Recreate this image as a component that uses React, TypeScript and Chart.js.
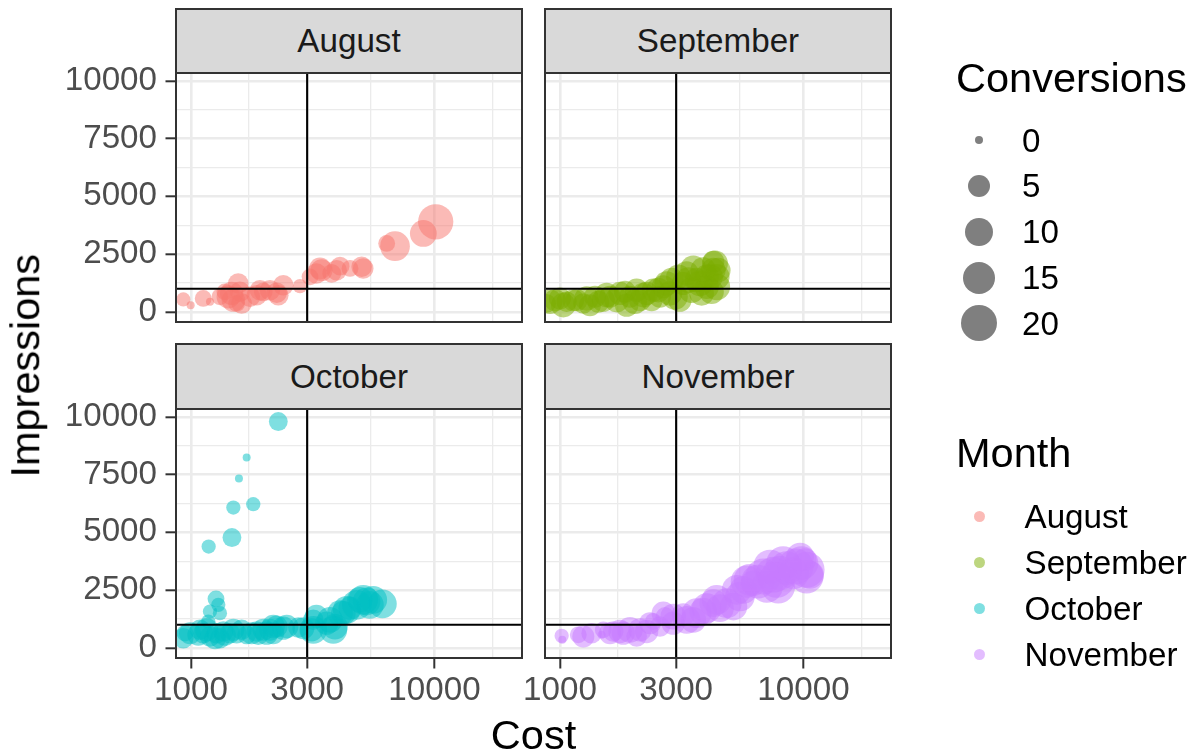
import React, { useEffect, useRef } from 'react';
import { Chart, registerables } from 'chart.js';

Chart.register(...registerables);

// ---------------- data ----------------
const MONTHS = ['August', 'September', 'October', 'November'];
const MONTH_COLORS = ['#F8766D', '#7CAE00', '#00BFC4', '#C77CFF'];

const AUG_COST = [930, 997, 1123, 1197, 1315, 1379, 1469, 1564, 1540, 1589, 1746, 1920, 1982, 2249, 2394, 2804, 3083, 3388, 3440, 3785, 4094, 4500, 5024, 5100, 6364, 6887, 9000, 10117, 1493, 2111, 2284, 1423, 1615, 1862, 3274, 3966];
const AUG_IMPR = [537, 290, 580, 433, 650, 866, 797, 1229, 364, 866, 650, 939, 866, 823, 1156, 1113, 1515, 1879, 1805, 1662, 1978, 1879, 1948, 1880, 2961, 2844, 3394, 3896, 506, 939, 723, 650, 364, 723, 1662, 1805];
const AUG_CONV = [1, 0, 2, 0, 2, 2, 6, 4, 2, 4, 4, 4, 3, 4, 4, 1, 2, 5, 5, 3, 3, 2, 4, 4, 2, 12, 9, 19, 6, 4, 4, 6, 4, 4, 4, 4];

const SEP_COST = [882, 954, 1000, 1065, 1134, 1247, 1328, 1392, 1506, 1605, 1764, 1879, 1939, 2064, 2130, 2269, 2417, 2574, 2657, 2874, 2966, 3107, 3208, 3312, 3528, 3642, 3878, 4004, 4134, 4334, 4403, 4403, 4264, 910, 1032, 1171, 1287, 1437, 1555, 1710, 1849, 2031, 2198, 2379, 2532, 2742, 2830, 3063, 3364, 3471, 3757, 4004, 4264, 4468, 4194, 3817];
const SEP_IMPR = [364, 506, 580, 433, 506, 364, 290, 650, 506, 650, 797, 290, 650, 939, 506, 797, 939, 650, 1083, 1372, 650, 506, 1229, 1662, 1879, 1372, 1805, 1083, 1515, 2095, 1515, 1083, 1805, 433, 290, 506, 580, 433, 723, 506, 866, 433, 723, 506, 939, 1229, 797, 1515, 1372, 939, 1229, 1515, 2165, 1805, 866, 797];
const SEP_CONV = [3, 5, 5, 4, 5, 4, 5, 5, 6, 5, 6, 6, 5, 6, 5, 6, 6, 5, 6, 7, 8, 6, 6, 7, 8, 7, 8, 7, 8, 8, 8, 9, 7, 7, 7, 5, 7, 5, 7, 7, 5, 7, 7, 5, 7, 7, 7, 7, 8, 8, 8, 7, 5, 7, 7, 7];

const OCT_COST = [2284, 1693, 1574, 1493, 1802, 1182, 1473, 1267, 1295, 1197, 1315, 1178, 930, 945, 1123, 1197, 1275, 1358, 1446, 1540, 1693, 1862, 1982, 2111, 2249, 2394, 2760, 3180, 3131, 3610, 3902, 4227, 4500, 4938, 5260, 5428, 6110, 1089, 1315, 1614, 1890, 2177, 991, 1072, 1160, 1255, 1379, 1493, 1775, 2045, 2177, 2473, 2895, 3274, 3722, 4094, 4364, 4795, 5102, 5603, 3180, 3842];
const OCT_IMPR = [9797, 8238, 7329, 6074, 6219, 4385, 4775, 2121, 1861, 1571, 1502, 1139, 420, 636, 636, 489, 636, 706, 636, 636, 563, 706, 779, 779, 922, 853, 879, 1212, 779, 1069, 922, 1502, 1717, 2078, 2006, 1861, 1905, 779, 420, 779, 563, 636, 636, 563, 779, 420, 563, 779, 636, 636, 922, 922, 853, 1355, 1212, 1502, 1645, 1861, 2078, 2078, 779, 779];
const OCT_CONV = [3, 0, 0, 1, 1, 1, 3, 2, 1, 1, 1, 1, 4, 2, 4, 4, 4, 4, 4, 4, 3, 4, 5, 5, 5, 6, 4, 4, 6, 6, 8, 7, 6, 8, 10, 10, 11, 4, 4, 4, 4, 5, 5, 5, 6, 5, 5, 5, 5, 6, 6, 6, 5, 6, 8, 8, 10, 12, 12, 10, 10, 10];

const NOV_COST = [1016, 1022, 1189, 1247, 1483, 1506, 1655, 1820, 1939, 2064, 2269, 2417, 2574, 2700, 2918, 3208, 3528, 3878, 4264, 4538, 5154, 5667, 6228, 6847, 7525, 7876, 8515, 9068, 9808, 10302, 10637, 10130, 5485, 6000, 7067, 8000, 2920, 3313, 3642, 4004, 4403, 4841, 5323, 5853, 6504, 7300, 7760, 8251, 9285, 10302, 9684, 2344, 2130, 1764, 1605, 1349, 2657];
const NOV_IMPR = [519, 346, 563, 489, 563, 779, 706, 636, 779, 489, 706, 1139, 922, 1355, 1069, 1429, 1212, 1571, 1935, 1717, 1788, 2511, 2800, 3087, 3160, 2654, 3450, 3234, 3667, 3377, 3160, 3810, 2222, 2944, 2654, 3234, 1355, 1212, 1502, 1717, 2078, 1935, 2511, 2870, 2870, 3520, 2944, 3667, 3520, 3087, 3952, 1069, 779, 706, 636, 636, 1502];
const NOV_CONV = [1, 0, 2, 5, 0, 2, 4, 6, 8, 4, 6, 2, 4, 3, 6, 6, 8, 10, 10, 10, 10, 10, 8, 20, 20, 17, 17, 15, 17, 20, 10, 6, 12, 14, 15, 18, 8, 10, 12, 12, 12, 12, 12, 15, 17, 17, 20, 17, 20, 17, 10, 5, 6, 6, 5, 4, 6];

const X_BREAKS = [1000, 3000, 10000];
const X_MINOR_BREAKS = [1732, 5477, 17321];
const Y_BREAKS = [0, 2500, 5000, 7500, 10000];
const Y_MINOR_BREAKS = [1250, 3750, 6250, 8750];
const SIZE_BREAKS = [0, 5, 10, 15, 20];
const X_LIMITS = [868, 22880];
const Y_LIMITS = [-440, 10340];
const COST_REF = 3000;
const IMPR_REF = 1000;

const COSTS = [AUG_COST, SEP_COST, OCT_COST, NOV_COST];
const IMPRS = [AUG_IMPR, SEP_IMPR, OCT_IMPR, NOV_IMPR];
const CONVS = [AUG_CONV, SEP_CONV, OCT_CONV, NOV_CONV];

// ---------------- layout / style ----------------
const W = 1201;
const H = 754;
const PANELS = [
  { left: 176, right: 522, top: 73, bottom: 322 },
  { left: 545, right: 891, top: 73, bottom: 322 },
  { left: 176, right: 522, top: 409, bottom: 658 },
  { left: 545, right: 891, top: 409, bottom: 658 },
];
const STRIPS = [
  { left: 175, top: 8, width: 348, height: 66 },
  { left: 544, top: 8, width: 348, height: 66 },
  { left: 175, top: 343, width: 348, height: 67 },
  { left: 544, top: 343, width: 348, height: 67 },
];
const FONT = '"Liberation Sans", Arial, Helvetica, sans-serif';
const FS_SMALL = 33.2;
const FS_TITLE = 41.5;
const ALPHA = 0.5;

const sizeToRadius = (c: number) => 4 + 3.13 * Math.sqrt(c);
const withAlpha = (hex: string, a: number) => {
  const n = parseInt(hex.slice(1), 16);
  return `rgba(${(n >> 16) & 255},${(n >> 8) & 255},${n & 255},${a})`;
};

const panelBorder = {
  id: 'panelBorder',
  afterDatasetsDraw(chart: any) {
    const { ctx, chartArea: a } = chart;
    ctx.save();
    ctx.strokeStyle = '#333333';
    ctx.lineWidth = 2;
    ctx.strokeRect(a.left, a.top, a.right - a.left, a.bottom - a.top);
    ctx.restore();
  },
};

function Panel({ index }: { index: number }) {
  const ref = useRef<HTMLCanvasElement>(null);
  useEffect(() => {
    const canvas = ref.current;
    if (!canvas) return;
    const p = PANELS[index];
    const showY = index % 2 === 0;
    const showX = index >= 2;
    const Y_AXIS_W = 176;
    const X_AXIS_H = H - 658;
    const color = MONTH_COLORS[index];
    const cost = COSTS[index];
    const impr = IMPRS[index];
    const conv = CONVS[index];
    const isMajorX = (v: number) => X_BREAKS.includes(v);
    const isMajorY = (v: number) => Y_BREAKS.includes(v);

    const chart = new Chart(canvas, {
      type: 'scatter',
      data: {
        datasets: [
          {
            type: 'line',
            data: [
              { x: COST_REF, y: Y_LIMITS[0] },
              { x: COST_REF, y: Y_LIMITS[1] },
            ],
            borderColor: '#000000',
            borderWidth: 2.1,
            pointRadius: 0,
            showLine: true,
            fill: false,
            clip: 0,
            order: 0,
          } as any,
          {
            type: 'line',
            data: [
              { x: X_LIMITS[0], y: IMPR_REF },
              { x: X_LIMITS[1], y: IMPR_REF },
            ],
            borderColor: '#000000',
            borderWidth: 2.1,
            pointRadius: 0,
            showLine: true,
            fill: false,
            clip: 0,
            order: 0,
          } as any,
          {
            type: 'scatter',
            label: MONTHS[index],
            data: cost.map((c, j) => ({ x: c, y: impr[j] })),
            pointRadius: conv.map(sizeToRadius),
            pointBackgroundColor: withAlpha(color, ALPHA),
            pointBorderWidth: 0,
            pointBorderColor: 'rgba(0,0,0,0)',
            clip: 0,
            order: 1,
          } as any,
        ],
      },
      options: {
        responsive: false,
        animation: false,
        events: [],
        layout: {
          padding: {
            left: showY ? p.left - Y_AXIS_W : p.left,
            right: W - p.right,
            top: p.top,
            bottom: showX ? H - p.bottom - X_AXIS_H : H - p.bottom,
          },
        },
        plugins: {
          legend: { display: false },
          tooltip: { enabled: false },
          title: { display: false },
        },
        scales: {
          x: {
            type: 'logarithmic',
            min: X_LIMITS[0],
            max: X_LIMITS[1],
            bounds: 'data',
            afterBuildTicks: (s: any) => {
              s.ticks = [...X_BREAKS, ...X_MINOR_BREAKS].sort((a, b) => a - b).map((v) => ({ value: v }));
            },
            afterFit: (s: any) => {
              s.height = showX ? X_AXIS_H : 0;
            },
            ticks: {
              display: showX,
              autoSkip: false,
              maxRotation: 0,
              minRotation: 0,
              padding: 2.3,
              color: '#4D4D4D',
              font: { family: FONT, size: FS_SMALL },
              callback: (v: any) => (isMajorX(Number(v)) ? String(v) : ''),
            },
            grid: {
              color: '#EBEBEB',
              lineWidth: (ctx: any) => (ctx.tick && isMajorX(ctx.tick.value) ? 2.6 : 1.3),
              drawTicks: showX,
              tickLength: 10.5,
              tickWidth: 2,
              tickColor: (ctx: any) => (ctx.tick && isMajorX(ctx.tick.value) ? '#333333' : 'rgba(0,0,0,0)'),
            },
            border: { display: false },
          },
          y: {
            type: 'linear',
            min: Y_LIMITS[0],
            max: Y_LIMITS[1],
            bounds: 'data',
            afterBuildTicks: (s: any) => {
              s.ticks = [...Y_BREAKS, ...Y_MINOR_BREAKS].sort((a, b) => a - b).map((v) => ({ value: v }));
            },
            afterFit: (s: any) => {
              s.width = showY ? Y_AXIS_W : 0;
            },
            ticks: {
              display: showY,
              autoSkip: false,
              padding: 8.5,
              color: '#4D4D4D',
              font: { family: FONT, size: FS_SMALL },
              callback: (v: any) => (isMajorY(Number(v)) ? String(v) : ''),
            },
            grid: {
              color: '#EBEBEB',
              lineWidth: (ctx: any) => (ctx.tick && isMajorY(ctx.tick.value) ? 2.6 : 1.3),
              drawTicks: showY,
              tickLength: 10.5,
              tickWidth: 2,
              tickColor: (ctx: any) => (ctx.tick && isMajorY(ctx.tick.value) ? '#333333' : 'rgba(0,0,0,0)'),
            },
            border: { display: false },
          },
        },
      } as any,
      plugins: [panelBorder],
    });
    return () => chart.destroy();
  }, [index]);
  return (
    <canvas
      ref={ref}
      width={W}
      height={H}
      style={{ position: 'absolute', left: 0, top: 0, width: W, height: H, pointerEvents: 'none' }}
    />
  );
}

// text placed by its baseline (line-height 1, Arial metrics)
function Text({ x, baseline, size, children, color = '#000' }: any) {
  return (
    <div
      style={{
        position: 'absolute',
        left: x,
        top: baseline - 0.8465 * size,
        fontFamily: FONT,
        fontSize: size,
        lineHeight: `${size}px`,
        color,
        whiteSpace: 'nowrap',
      }}
    >
      {children}
    </div>
  );
}

// text vertically centred on a y (cap-height centre)
function CText({ x, cy, size, children, color = '#000' }: any) {
  return (
    <div
      style={{
        position: 'absolute',
        left: x,
        top: cy - 0.4885 * size,
        fontFamily: FONT,
        fontSize: size,
        lineHeight: `${size}px`,
        color,
        whiteSpace: 'nowrap',
      }}
    >
      {children}
    </div>
  );
}

const SIZE_KEY_Y = [140, 185.7, 231.7, 277.7, 323];
const MONTH_KEY_Y = [516.7, 562.7, 608.7, 654.3];

export default function App() {
  useEffect(() => {
    document.body.style.margin = '0';
  }, []);
  return (
    <div
      style={{
        position: 'absolute',
        left: 0,
        top: 0,
        width: W,
        height: H,
        overflow: 'hidden',
        background: '#FFFFFF',
      }}
    >
      {MONTHS.map((m, i) => (
        <Panel key={m} index={i} />
      ))}
      {MONTHS.map((m, i) => (
        <div
          key={'s' + m}
          style={{
            position: 'absolute',
            left: STRIPS[i].left,
            top: STRIPS[i].top,
            width: STRIPS[i].width,
            height: STRIPS[i].height,
            boxSizing: 'border-box',
            border: '2px solid #333333',
            background: '#D9D9D9',
            display: 'flex',
            alignItems: 'center',
            justifyContent: 'center',
            fontFamily: FONT,
            fontSize: FS_SMALL,
            lineHeight: `${FS_SMALL}px`,
            color: '#1A1A1A',
          }}
        >
          {m}
        </div>
      ))}
      {/* axis titles */}
      <div
        style={{
          position: 'absolute',
          left: 25.3 - 200,
          top: 366 - FS_TITLE / 2,
          width: 400,
          height: FS_TITLE,
          lineHeight: `${FS_TITLE}px`,
          fontFamily: FONT,
          fontSize: FS_TITLE,
          textAlign: 'center',
          color: '#000',
          transform: 'rotate(-90deg)',
          transformOrigin: '50% 50%',
        }}
      >
        Impressions
      </div>
      <div
        style={{
          position: 'absolute',
          left: 533.5 - 200,
          top: 749 - 0.8465 * FS_TITLE,
          width: 400,
          lineHeight: `${FS_TITLE}px`,
          fontFamily: FONT,
          fontSize: FS_TITLE,
          textAlign: 'center',
          color: '#000',
        }}
      >
        Cost
      </div>
      {/* size legend */}
      <Text x={956} baseline={91.7} size={FS_TITLE}>
        Conversions
      </Text>
      {SIZE_BREAKS.map((s, i) => {
        const r = sizeToRadius(s);
        return (
          <React.Fragment key={'k' + s}>
            <div
              style={{
                position: 'absolute',
                left: 979.3 - r,
                top: SIZE_KEY_Y[i] - r,
                width: 2 * r,
                height: 2 * r,
                borderRadius: '50%',
                background: 'rgba(0,0,0,0.5)',
              }}
            />
            <CText x={1022} cy={SIZE_KEY_Y[i]} size={FS_SMALL}>
              {String(s)}
            </CText>
          </React.Fragment>
        );
      })}
      {/* month legend */}
      <Text x={956} baseline={466.7} size={FS_TITLE}>
        Month
      </Text>
      {MONTHS.map((m, i) => (
        <React.Fragment key={'m' + m}>
          <div
            style={{
              position: 'absolute',
              left: 979.3 - 5.7,
              top: MONTH_KEY_Y[i] - 5.7,
              width: 11.4,
              height: 11.4,
              borderRadius: '50%',
              background: withAlpha(MONTH_COLORS[i], ALPHA),
            }}
          />
          <CText x={1024.5} cy={MONTH_KEY_Y[i]} size={FS_SMALL}>
            {m}
          </CText>
        </React.Fragment>
      ))}
    </div>
  );
}
